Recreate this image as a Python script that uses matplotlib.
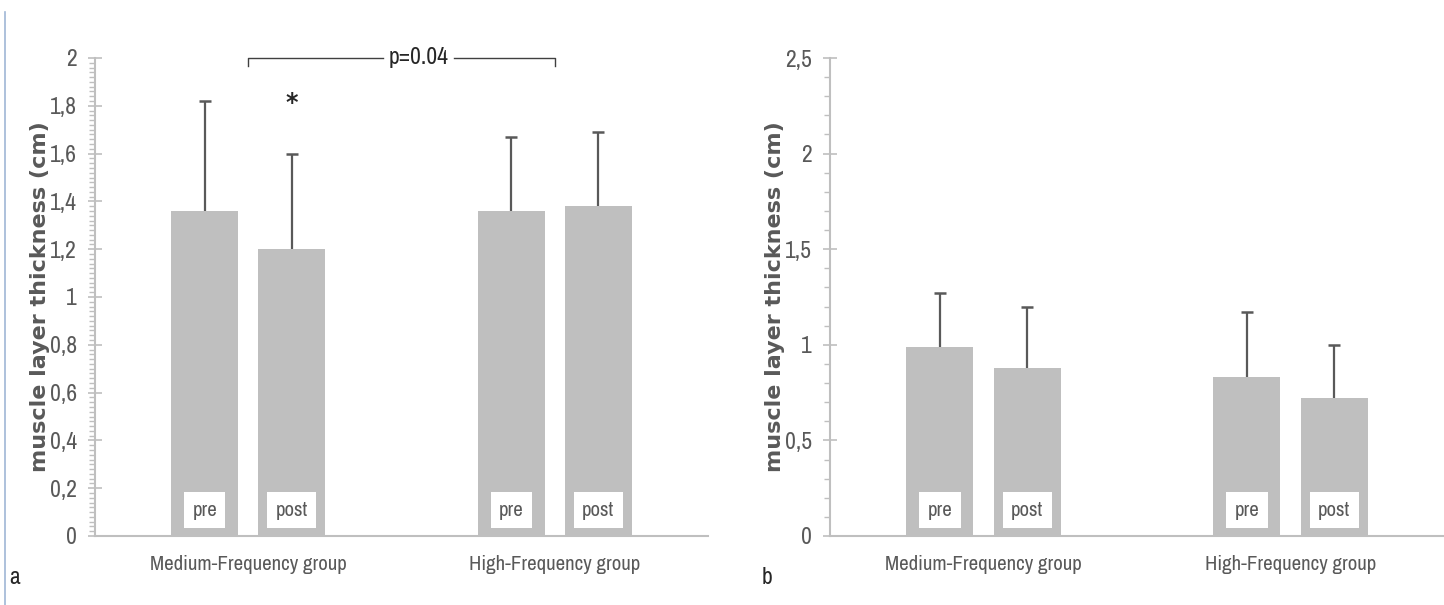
import matplotlib
matplotlib.use("Agg")
import matplotlib.pyplot as plt
from matplotlib import font_manager
import numpy as np
from matplotlib.ticker import MultipleLocator, FuncFormatter
from matplotlib.lines import Line2D

# narrow font (the original looks like squeezed Calibri)
names = {f.name for f in font_manager.fontManager.ttflist}
wanted = ["Archivo Narrow", "Barlow Semi Condensed", "Carlito"]
narrow = [n for n in wanted if n in names]
plt.rcParams['font.family'] = narrow[:1] + ['DejaVu Sans']

# -------------------------------
# DATA
# -------------------------------
groups = ["Medium-Frequency group", "High-Frequency group"]
phases = ["pre", "post"]

# panel a
a_means = [[1.36, 1.20], [1.36, 1.38]]
a_sd = [[0.46, 0.40], [0.31, 0.31]]

# panel b
b_means = [[0.99, 0.88], [0.83, 0.72]]
b_sd = [[0.28, 0.32], [0.34, 0.28]]

BAR = "#bfbfbf"
AXIS = "#bfbfbf"
TXT = "#595959"
ERR = "#595959"

fig = plt.figure(figsize=(14.44, 6.05), dpi=100)

ax_a = fig.add_axes([95/1444, 69/605, 613/1444, 478/605])
ax_b = fig.add_axes([830/1444, 69/605, 614/1444, 478/605])

width = 0.218
offset = 0.142


def comma(v, pos):
    s = f"{v:.1f}".rstrip("0").rstrip(".")
    return s.replace(".", ",")


def draw_panel(ax, means, sds, ymax, major, minor):
    x = np.arange(len(groups))
    for j, ph in enumerate(phases):
        xs = x + (j * 2 - 1) * offset
        vals = np.array([m[j] for m in means])
        errs = np.array([s[j] for s in sds])
        ax.bar(xs, vals, width, color=BAR, zorder=2)
        # upper error bar only
        ax.vlines(xs, vals, vals + errs, color=ERR, lw=1.6, zorder=3)
        ax.plot(xs, vals + errs, ls="none", marker="_", ms=8, mew=1.8,
                color=ERR, zorder=3)
        for xi in xs:
            ax.text(xi, 0.054, ph, transform=ax.get_xaxis_transform(),
                    ha="center", va="center", fontsize=15, color=TXT, zorder=4,
                    bbox=dict(boxstyle="square,pad=0.4", fc="white", ec="none"))

    ax.set_xlim(-0.5, 1.5)
    ax.set_ylim(0, ymax)
    ax.set_xticks(x)
    ax.set_xticklabels(groups, fontsize=15, color=TXT)
    ax.tick_params(axis="x", length=0, pad=14)

    ax.yaxis.set_major_locator(MultipleLocator(major))
    ax.yaxis.set_minor_locator(MultipleLocator(minor))
    ax.yaxis.set_major_formatter(FuncFormatter(comma))
    ax.tick_params(axis="y", which="major", direction="inout", length=10,
                   width=1.2, color=AXIS, labelsize=17, labelcolor=TXT, pad=8)
    ax.tick_params(axis="y", which="minor", direction="out", length=4,
                   width=1.0, color=AXIS)

    for s in ["top", "right"]:
        ax.spines[s].set_visible(False)
    ax.spines["left"].set_color(AXIS)
    ax.spines["bottom"].set_color(AXIS)
    ax.spines["left"].set_linewidth(1.5)
    ax.spines["bottom"].set_linewidth(1.5)

    ax.set_ylabel("muscle layer thickness (cm)", family="DejaVu Sans",
                  fontsize=16, fontweight="bold", color=TXT, labelpad=0)


draw_panel(ax_a, a_means, a_sd, 2, 0.2, 0.02)
draw_panel(ax_b, b_means, b_sd, 2.5, 0.5, 0.1)

# significance bracket on panel a
by = 2.0
ax_a.plot([0, 0, 0.44], [by - 0.035, by, by], color="#404040", lw=1.0,
          clip_on=False)
ax_a.plot([0.67, 1, 1], [by, by, by - 0.035], color="#404040", lw=1.0,
          clip_on=False)
ax_a.text(0.555, by, "p=0.04", ha="center", va="center", fontsize=17,
          color="#262626", clip_on=False)
ax_a.text(offset, 1.81, "*", ha="center", va="center", fontsize=17,
          fontweight="bold", family="DejaVu Sans", color="#262626")

# panel letters
fig.text(15/1444, 1 - 578/605, "a", fontsize=17, color="#262626",
         ha="center", va="center")
fig.text(767/1444, 1 - 578/605, "b", fontsize=17, color="#262626",
         ha="center", va="center")

# thin border line at the left edge
fig.add_artist(Line2D([5/1444, 5/1444], [0, 0.98], color="#9fb6d6", lw=1.2))

fig.savefig("out.png", dpi=100)
